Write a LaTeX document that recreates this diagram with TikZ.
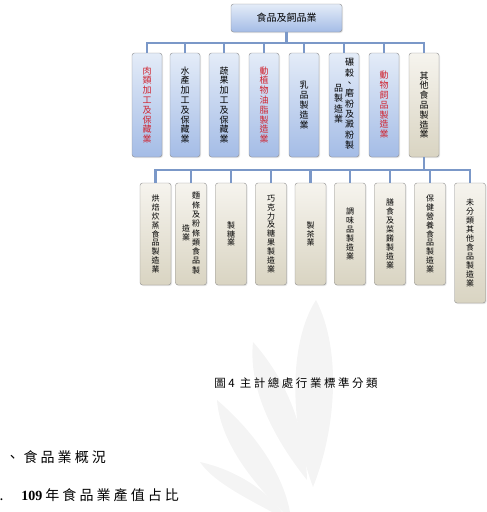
\documentclass[tikz,border=0pt]{standalone}
\usepackage{fontspec}
\setmainfont{Noto Sans CJK TC}
\newfontfamily\capfont[LetterSpace=22]{Noto Sans CJK TC}
\newfontfamily\numfont{Liberation Serif}
\usetikzlibrary{shadows}
\definecolor{boxtop}{HTML}{E4ECF8}
\definecolor{boxbot}{HTML}{A4BCE6}
\definecolor{tantop}{HTML}{F6F4EE}
\definecolor{tanbot}{HTML}{D9D4C2}
\definecolor{linkblue}{HTML}{7B98C8}
\definecolor{redtxt}{HTML}{D0202C}
\definecolor{leafgray}{HTML}{F4F4F4}
\newcommand{\twocol}[2]{\begin{tabular}{@{}c@{\hspace{2pt}}c@{}}\begin{tabular}{@{}c@{}}#1\end{tabular}&\begin{tabular}{@{}c@{}}#2\end{tabular}\end{tabular}}

\tikzset{
  base/.style={draw=black!45, rounded corners=2.5pt, inner sep=0pt, align=center,
    drop shadow={opacity=0.2, shadow xshift=1pt, shadow yshift=-1pt}},
  bluebox/.style={base, top color=boxtop, bottom color=boxbot},
  tanbox/.style={base, top color=tantop, bottom color=tanbot},
  lv1/.style={minimum width=30pt, minimum height=104pt, font=\fontsize{9}{9.8}\selectfont},
  lv2/.style={minimum width=31pt, minimum height=102pt, font=\fontsize{8}{8.9}\selectfont},
  link/.style={linkblue, line width=2.2pt},
  leaf/.style={fill=leafgray}
}

\begin{document}
\begin{tikzpicture}[x=1pt, y=-1pt]
    \useasboundingbox (0,0) rectangle (487,512);

    % watermark
    \fill[leaf] (313,487) .. controls (288,420) and (290,340) .. (316,300) .. controls (342,350) and (336,430) .. (313,487);
    \fill[leaf] (307,480) .. controls (275,440) and (248,390) .. (253,342) .. controls (287,380) and (306,430) .. (307,480);
    \fill[leaf] (283,512) .. controls (250,480) and (220,440) .. (217,400) .. controls (252,430) and (282,470) .. (290,512);
    \fill[leaf] (272,512) .. controls (240,495) and (212,480) .. (200,462) .. controls (236,470) and (266,490) .. (282,512);

    % root
    \node[bluebox, minimum width=111pt, minimum height=28pt, font=\fontsize{10}{12}\selectfont] (root) at (286.5,18) {食品及飼品業};

    % level 1
    \node[bluebox, lv1, text=redtxt] (c1) at (147,105) {肉\\類\\加\\工\\及\\保\\藏\\業};
    \node[bluebox, lv1] (c2) at (185,105) {水\\產\\加\\工\\及\\保\\藏\\業};
    \node[bluebox, lv1] (c3) at (224,105) {蔬\\果\\加\\工\\及\\保\\藏\\業};
    \node[bluebox, lv1, text=redtxt] (c4) at (264,105) {動\\植\\物\\油\\脂\\製\\造\\業};
    \node[bluebox, lv1] (c5) at (304,105) {乳\\品\\製\\造\\業};
    \node[bluebox, lv1] (c6) at (344,105) {\twocol{品\\製\\造\\業}{碾\\穀\\、\\磨\\粉\\及\\澱\\粉\\製}};
    \node[bluebox, lv1, text=redtxt] (c7) at (384,105) {動\\物\\飼\\品\\製\\造\\業};
    \node[tanbox, lv1] (c8) at (424,105) {其\\他\\食\\品\\製\\造\\業};

    % level 2
    \node[tanbox, lv2] (d1) at (155.5,234) {烘\\焙\\炊\\蒸\\食\\品\\製\\造\\業};
    \node[tanbox, lv2] (d2) at (191,234) {\twocol{造\\業}{麵\\條\\及\\粉\\條\\類\\食\\品\\製}};
    \node[tanbox, lv2] (d3) at (231,234) {製\\糖\\業};
    \node[tanbox, lv2] (d4) at (271,234) {巧\\克\\力\\及\\糖\\果\\製\\造\\業};
    \node[tanbox, lv2] (d5) at (310.5,234) {製\\茶\\業};
    \node[tanbox, lv2] (d6) at (350,234) {調\\味\\品\\製\\造\\業};
    \node[tanbox, lv2] (d7) at (390,234) {膳\\食\\及\\菜\\餚\\製\\造\\業};
    \node[tanbox, lv2] (d8) at (430,234) {保\\健\\營\\養\\食\\品\\製\\造\\業};
    \node[tanbox, lv2, minimum height=120pt] (d9) at (470,243) {未\\分\\類\\其\\他\\食\\品\\製\\造\\業};

    % connectors
    \coordinate (bus1) at (286.5,43);
    \coordinate (bus2) at (424,170);
    \draw[link] (root) -- (bus1);
    \foreach \i in {1,...,8}
        \draw[link] (c\i.north) |- (bus1);
    \draw[link] (c8) -- (bus2);
    \foreach \i in {1,...,9}
        \draw[link] (d\i.north) |- (bus2);

    % caption and text
    \node[font=\capfont\fontsize{11.5}{14}\selectfont] (cap) at (296,383) {圖4 主計總處行業標準分類};
    \node[anchor=west, font=\capfont\fontsize{14}{16}\selectfont] (sec) at (2,457) {、\hspace{4pt}食品業概況};
    \node[anchor=west, font=\capfont\fontsize{14}{16}\selectfont] (sub) at (-4,495) {.\hspace{18pt}{\numfont\bfseries 109}\hspace{3pt}年食品業產值占比};
\end{tikzpicture}
\end{document}
